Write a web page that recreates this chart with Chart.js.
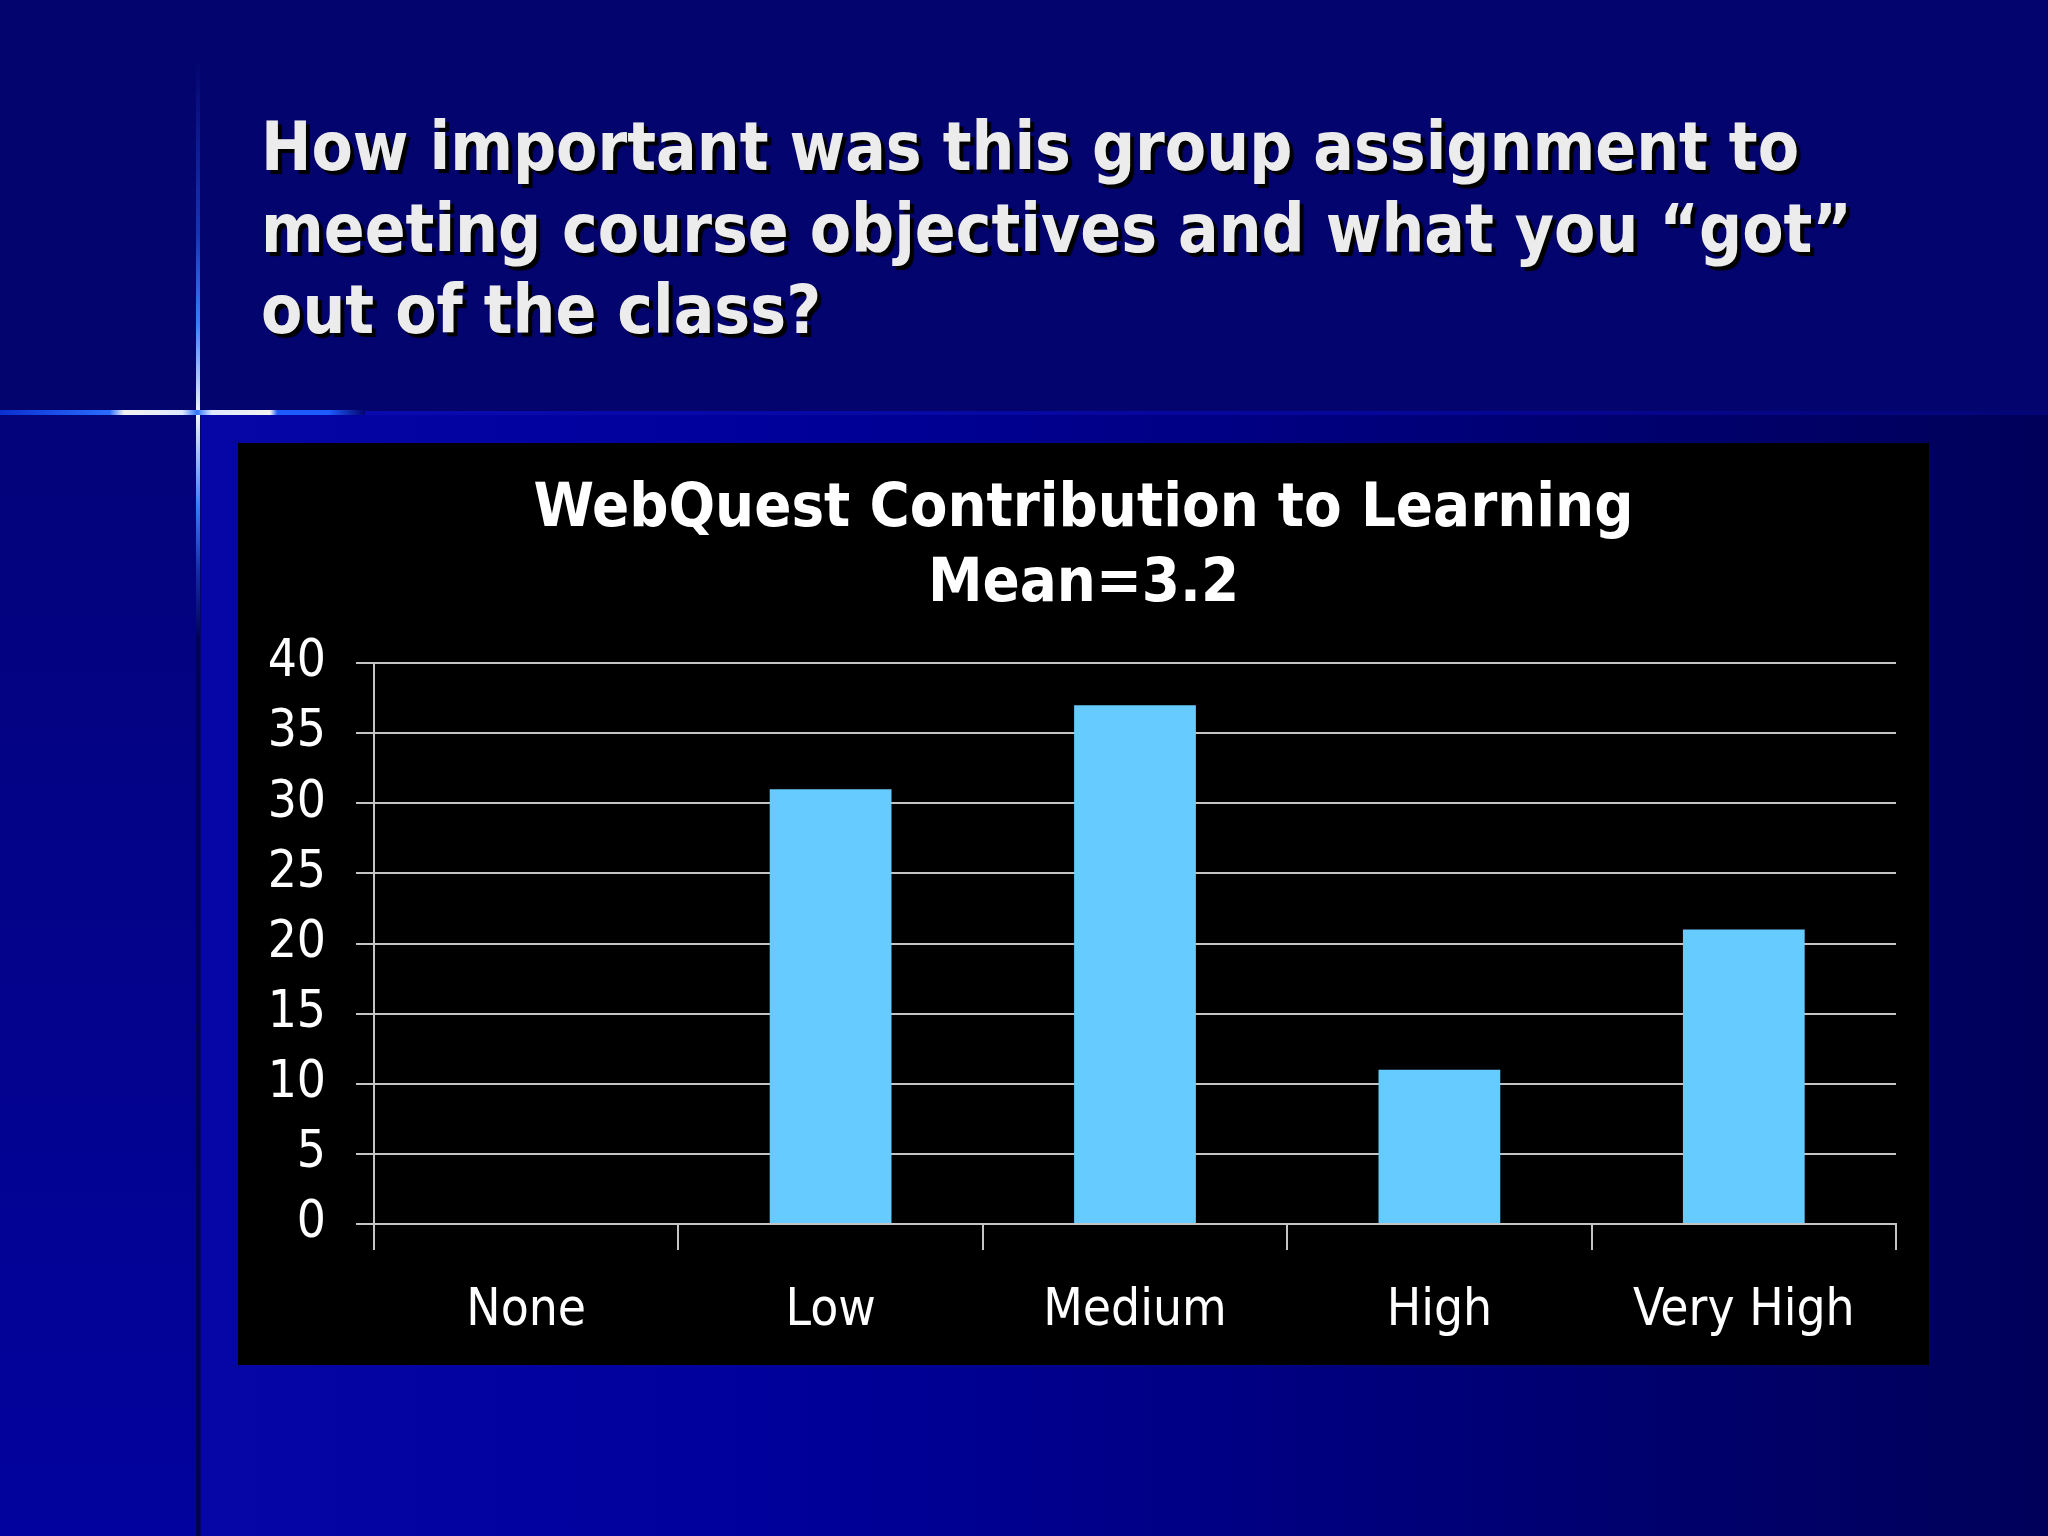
<!DOCTYPE html>
<html>
<head>
<meta charset="utf-8">
<script src="https://cdn.jsdelivr.net/npm/chart.js@4.4.1/dist/chart.umd.min.js"></script>
<style>
  body{
    margin: 0;
    width: 2048px;
    height: 1536px;
    overflow: hidden;
    position: relative;
    background: #04046e;
    font-family: 'DejaVu Sans Condensed', 'DejaVu Sans', sans-serif;
  }
  .lower{
    position: absolute;
    left: 201px; top: 415px; right: 0; bottom: 0;
    background: linear-gradient(to right, #0606a6 0%, #00009c 30%, #000084 55%, #00006c 80%, #00005a 100%);
  }
  .left-strip{
    position: absolute;
    left: 0; top: 415px; width: 196px; bottom: 0;
    background: linear-gradient(to bottom, #03037a, #02029e);
  }
  .vline-top{
    position: absolute;
    left: 196px; width: 4px; top: 60px; height: 352px;
    background: linear-gradient(to bottom, rgba(40,100,255,0), rgba(40,100,255,0.5) 50%, #3a7cff 75%, #f0f4ff 100%);
  }
  .vline-bottom{
    position: absolute;
    left: 196px; width: 4px; top: 415px; height: 1121px;
    background: linear-gradient(to bottom, #f0f4ff 0%, #3a7cff 8%, rgba(40,100,255,0.4) 14%, rgba(0,0,60,0.5) 20%, rgba(0,0,60,0.5) 100%);
  }
  .hline{
    position: absolute;
    left: 0; top: 410px; width: 365px; height: 5px;
    background: linear-gradient(to right, #0a30d0 0%, #2a6cff 30%, #f2f2ee 34%, #dfe8ff 50%, #2f74ff 54%, #dfe8ff 58%, #f2f2ee 74%, #1e5cff 76%, #1e5cff 90%, rgba(30,92,255,0) 100%);
  }
  .hline-faint{
    position: absolute;
    left: 365px; top: 411px; right: 0; height: 4px;
    background: linear-gradient(to right, #0a0ab0, #06069a 60%, #040478);
  }
  .slide-title{
    position: absolute;
    left: 261px; top: 107px;
    margin: 0;
    font-size: 67px;
    line-height: 81.5px;
    font-weight: bold;
    color: #ececec;
    text-shadow: 4px 4px 1px #000000;
  }
  #chartBox{
    position: absolute;
    left: 238px; top: 443px;
    width: 1691px; height: 922px;
    background: #000000;
  }
</style>
</head>
<body>
<div class="lower"></div>
<div class="left-strip"></div>
<div class="hline-faint"></div>
<div class="vline-top"></div>
<div class="vline-bottom"></div>
<div class="hline"></div>
<h1 class="slide-title">How important was this group assignment to<br>meeting course objectives and what you “got”<br>out of the class?</h1>
<div id="chartBox"><canvas id="ratingChart"></canvas></div>
<script>
// data
const categories = ['None', 'Low', 'Medium', 'High', 'Very High'];
const responses = [0, 31, 37, 11, 21];
const chartTitle = ['WebQuest Contribution to Learning', 'Mean=3.2'];
const yMin = 0;
const yMax = 40;
const yStep = 5;

const fontFamily = "'DejaVu Sans Condensed', 'DejaVu Sans', sans-serif";
const lineColor = '#c4c4c4';

const ctx = document.getElementById('ratingChart');
ctx.width = 1691;
ctx.height = 922;

let ratingChart = new Chart(ctx, {
    type: 'bar',
    data: {
        labels: categories,
        datasets: [{
            data: responses,
            backgroundColor: '#66ccff',
            borderWidth: 0,
            categoryPercentage: 1,
            barPercentage: 0.4
        }]
    },
    options: {
        responsive: false,
        animation: false,
        layout: {
            padding: 0
        },
        plugins: {
            legend: {display: false},
            tooltip: {enabled: false},
            title: {
                display: true,
                text: chartTitle,
                color: '#ffffff',
                font: {family: fontFamily, size: 61, weight: 'bold', lineHeight: 1.23},
                padding: {top: 30, bottom: 40}
            }
        },
        scales: {
            x: {
                grid: {
                    offset: true,
                    drawOnChartArea: false,
                    drawTicks: true,
                    tickLength: 26,
                    color: lineColor,
                    lineWidth: 2
                },
                border: {display: true, color: lineColor, width: 2},
                ticks: {
                    color: '#ffffff',
                    font: {family: fontFamily, size: 51},
                    padding: 31,
                    maxRotation: 0
                },
                afterFit: (axis) => { axis.width = axis.width; axis.height = 141; }
            },
            y: {
                min: yMin,
                max: yMax,
                grid: {
                    color: lineColor,
                    lineWidth: 2,
                    tickLength: 18
                },
                border: {display: true, color: lineColor, width: 2},
                ticks: {
                    stepSize: yStep,
                    color: '#ffffff',
                    font: {family: fontFamily, size: 51},
                    padding: 30
                },
                afterFit: (axis) => { axis.width = 136; }
            },
            // empty right axis, only keeps the margin on the right so the title stays centred on the box
            spacer: {
                position: 'right',
                grid: {display: false},
                border: {display: false},
                ticks: {display: false},
                afterFit: (axis) => { axis.width = 33; }
            }
        }
    }
});
</script>
</body>
</html>
